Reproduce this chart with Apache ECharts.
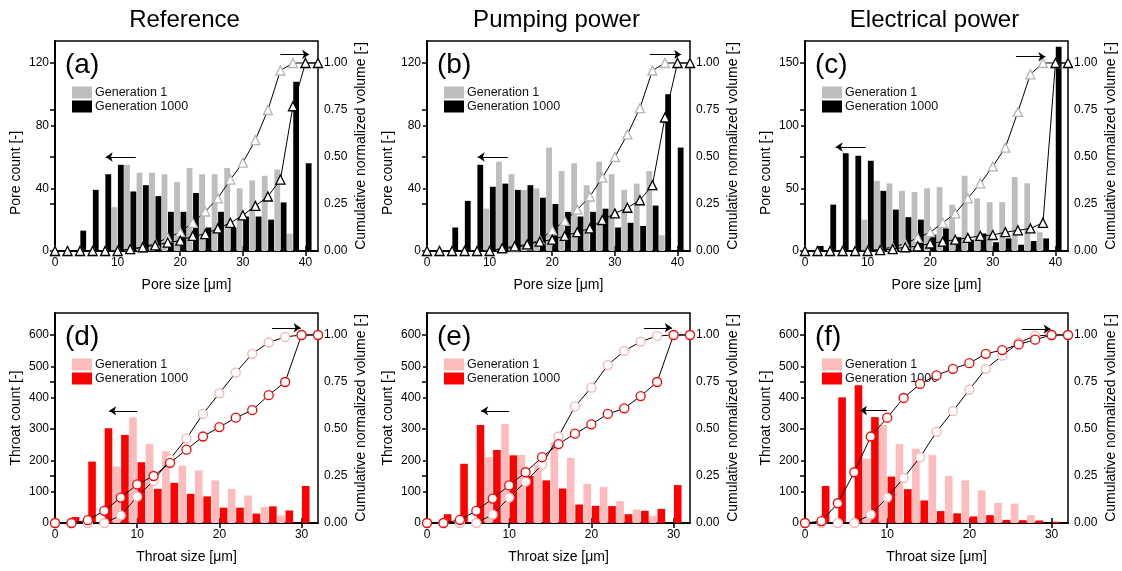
<!DOCTYPE html>
<html><head><meta charset="utf-8">
<script src="https://cdn.jsdelivr.net/npm/echarts@6/dist/echarts.min.js"></script>
<style>html,body{margin:0;padding:0;background:#fff}#c{width:1122px;height:571px}</style>
</head><body><div id="c"></div><script>
// ---------- data ----------
const poreSizes = [0,2,4,6,8,10,12,14,16,18,20,22,24,26,28,30,32,34,36,38,40];
const poreCumSizes = [0,2,4,6,8,10,12,14,16,18,20,22,24,26,28,30,32,34,36,38,40,42];
const throatSizes = [0,2,4,6,8,10,12,14,16,18,20,22,24,26,28,30];
const throatCumSizes = [0,2,4,6,8,10,12,14,16,18,20,22,24,26,28,30,32];

const columnTitles = ['Reference', 'Pumping power', 'Electrical power'];
const panelLabels = ['(a)', '(b)', '(c)', '(d)', '(e)', '(f)'];
const legendNames = ['Generation 1', 'Generation 1000'];

// (a) Reference - pores
const refPoreGen1 = [0,0,0,0,0,28,55,50,50,49,44,53,49,49,53,40,45,48,52,11,0];
const refPoreGen1000 = [0,0,13,39,49,55,38,42,35,25,25,37,15,25,15,22,22,20,31,108,56];
const refPoreCumGen1 = [0,0,0,0,0,0,0.01,0.02,0.04,0.07,0.10,0.15,0.21,0.28,0.38,0.47,0.59,0.75,0.96,1,1,1];
const refPoreCumGen1000 = [0,0,0,0,0,0,0.01,0.02,0.03,0.045,0.055,0.08,0.09,0.12,0.15,0.19,0.24,0.29,0.38,0.77,1,1];
// (b) Pumping power - pores
const pumpPoreGen1 = [0,0,0,0,0,27,57,49,39,40,66,51,56,42,57,49,39,43,51,10,0];
const pumpPoreGen1000 = [0,0,15,32,55,41,43,39,42,34,30,25,22,25,27,15,18,16,29,100,66];
const pumpPoreCumGen1 = [0,0,0,0,0,0,0.01,0.02,0.03,0.06,0.11,0.16,0.22,0.29,0.39,0.50,0.62,0.76,0.96,1,1,1];
const pumpPoreCumGen1000 = [0,0,0,0,0,0,0.015,0.025,0.035,0.05,0.06,0.08,0.10,0.12,0.165,0.20,0.23,0.27,0.35,0.71,1,1];
// (c) Electrical power - pores
const elecPoreGen1 = [0,0,0,0,0,25,56,54,48,47,50,51,37,60,42,39,39,59,54,15,0];
const elecPoreGen1000 = [0,4,37,78,76,72,48,33,27,25,13,18,11,9,14,7,10,5,8,10,163];
const elecPoreCumGen1 = [0,0,0,0,0,0,0.01,0.02,0.04,0.07,0.10,0.15,0.20,0.28,0.36,0.45,0.55,0.74,0.94,1,1,1];
const elecPoreCumGen1000 = [0,0,0,0,0,0,0.005,0.01,0.02,0.025,0.04,0.05,0.06,0.07,0.08,0.085,0.10,0.11,0.12,0.15,1,1];
// (d) Reference - throats
const refThroatGen1 = [0,0,0,0,180,337,252,229,183,168,136,109,88,51,24,0];
const refThroatGen1000 = [0,19,196,302,281,194,109,128,93,85,49,49,30,53,40,118];
const refThroatCumGen1 = [0,0,0,0,0.04,0.14,0.225,0.34,0.45,0.58,0.69,0.80,0.90,0.96,0.99,1,1];
const refThroatCumGen1000 = [0,0,0.015,0.065,0.135,0.205,0.25,0.32,0.39,0.46,0.51,0.56,0.60,0.68,0.75,1,1];
// (e) Pumping power - throats
const pumpThroatGen1 = [0,0,0,0,210,316,217,185,257,208,125,115,70,43,22,0];
const pumpThroatGen1000 = [0,28,189,313,233,216,150,136,110,59,55,54,28,39,45,121];
const pumpThroatCumGen1 = [0,0,0,0,0.045,0.135,0.22,0.31,0.46,0.62,0.72,0.84,0.915,0.965,0.995,1,1];
const pumpThroatCumGen1000 = [0,0,0.017,0.065,0.13,0.20,0.27,0.35,0.42,0.475,0.525,0.58,0.61,0.675,0.75,1,1];
// (f) Electrical power - throats
const elecThroatGen1 = [0,0,0,0,205,313,252,237,217,150,136,104,64,62,25,0];
const elecThroatGen1000 = [0,118,401,440,338,148,108,72,38,31,21,25,10,9,8,4];
const elecThroatCumGen1 = [0,0,0,0,0.045,0.135,0.24,0.35,0.485,0.595,0.71,0.82,0.89,0.96,0.995,1,1];
const elecThroatCumGen1000 = [0,0.01,0.105,0.27,0.46,0.56,0.665,0.74,0.785,0.82,0.85,0.90,0.92,0.95,0.975,1,1];

// tick labels
const poreXTicks = [0,10,20,30,40];
const throatXTicks = [0,10,20,30];
const poreYTicksAB = [0,40,80,120];
const poreYTicksC = [0,50,100,150];
const throatYTicks = [0,100,200,300,400,500,600];
const cumTicks = [0,0.25,0.5,0.75,1.0];

// arrows [x1,y1,x2,y2] in left-axis data units
const arrowsA = [[13.4,60,8.6,60],[36.5,125.5,41.1,125.5]];
const arrowsB = [[13.4,60,8.6,60],[36.1,125.5,41.1,125.5]];
const arrowsC = [[10.2,83,5.4,83],[34.2,155,38.9,155]];
const arrowsD = [[10.5,358,7.1,358],[26.9,623,30.4,623]];
const arrowsE = [[10.5,358,7.1,358],[26.9,623,30.3,623]];
const arrowsF = [[10.5,359,7.2,359],[26.9,619,30.4,619]];

// ---------- layout / style ----------
const FONT = 'Liberation Sans, Arial, sans-serif';
const TOPRATIO = 1.117;
const colLeft = [55, 427, 805];
const rowTop = [41, 313];
const gridW = 263, gridH = 210;

const pore = {sizes: poreSizes, cum: poreCumSizes, xMax: 42, xTicks: poreXTicks, xName: 'Pore size [\u03bcm]', yName: 'Pore count [-]',
  c1: '#bdbdbd', c2: '#000000', m1: '#b5b5b5', m2: '#000000', sym: 'triangle', symSize: 9, barW: 5.8, yNamePad: [0, 54, 0, 0]};
const throat = {sizes: throatSizes, cum: throatCumSizes, xMax: 32, xTicks: throatXTicks, xName: 'Throat size [\u03bcm]', yName: 'Throat count [-]',
  c1: '#fcbcbc', c2: '#ff0000', m1: '#f7b4b4', m2: '#ff0000', sym: 'circle', symSize: 9, barW: 7.6, yNamePad: [0, 0, 0, 0]};

const panels = [
  {kind: pore, col: 0, row: 0, yTicks: poreYTicksAB, g1: refPoreGen1, g2: refPoreGen1000, k1: refPoreCumGen1, k2: refPoreCumGen1000, arrows: arrowsA},
  {kind: pore, col: 1, row: 0, yTicks: poreYTicksAB, g1: pumpPoreGen1, g2: pumpPoreGen1000, k1: pumpPoreCumGen1, k2: pumpPoreCumGen1000, arrows: arrowsB},
  {kind: pore, col: 2, row: 0, yTicks: poreYTicksC, g1: elecPoreGen1, g2: elecPoreGen1000, k1: elecPoreCumGen1, k2: elecPoreCumGen1000, arrows: arrowsC},
  {kind: throat, col: 0, row: 1, yTicks: throatYTicks, g1: refThroatGen1, g2: refThroatGen1000, k1: refThroatCumGen1, k2: refThroatCumGen1000, arrows: arrowsD},
  {kind: throat, col: 1, row: 1, yTicks: throatYTicks, g1: pumpThroatGen1, g2: pumpThroatGen1000, k1: pumpThroatCumGen1, k2: pumpThroatCumGen1000, arrows: arrowsE},
  {kind: throat, col: 2, row: 1, yTicks: throatYTicks, g1: elecThroatGen1, g2: elecThroatGen1000, k1: elecThroatCumGen1, k2: elecThroatCumGen1000, arrows: arrowsF}
];

function onTicks(ticks, fmt) {
  return function (v) {
    for (const t of ticks) if (Math.abs(v - t) < 1e-6) return fmt(v);
    return '';
  };
}

const axisLine = {show: true, lineStyle: {color: '#000', width: 1.5}};
const labelStyle = {color: '#000', fontSize: 12, fontFamily: FONT};

const grid = [], xAxis = [], yAxis = [], series = [], legend = [], title = [];

columnTitles.forEach((t, c) => {
  title.push({text: t, left: colLeft[c] + gridW / 2 - 7, top: 3, textAlign: 'center',
    textStyle: {fontSize: 24, fontWeight: 'normal', color: '#000', fontFamily: FONT}});
});

panels.forEach((p, i) => {
  const K = p.kind;
  const left = colLeft[p.col], top = rowTop[p.row];
  const topTick = p.yTicks[p.yTicks.length - 1];
  const yMax = topTick * TOPRATIO;
  const yInt = p.yTicks[1] - p.yTicks[0];
  grid.push({left: left, top: top, width: gridW, height: gridH, containLabel: false,
    show: true, borderColor: '#000', borderWidth: 1.5, backgroundColor: 'transparent'});
  xAxis[i] = {type: 'value', gridIndex: i, min: 0, max: K.xMax, interval: 10, position: 'bottom',
    name: K.xName, nameLocation: 'middle', nameGap: 27,
    nameTextStyle: {fontSize: 14, color: '#000', fontFamily: FONT},
    axisLine: axisLine, splitLine: {show: false},
    axisTick: {show: true, inside: true, length: 5, customValues: K.xTicks, lineStyle: {color: '#000', width: 1.5}},
    axisLabel: {customValues: K.xTicks, margin: 6, formatter: onTicks(K.xTicks, v => String(v)), ...labelStyle}};
  xAxis[6 + i] = {type: 'value', gridIndex: i, min: 0, max: K.xMax, interval: 10, position: 'top',
    axisLine: axisLine, splitLine: {show: false},
    axisTick: {show: true, inside: true, length: 5, customValues: K.xTicks, lineStyle: {color: '#000', width: 1.5}},
    axisLabel: {show: false}};
  yAxis[i] = {type: 'value', gridIndex: i, min: 0, max: yMax, interval: yInt, position: 'left',
    name: K.yName, nameLocation: 'middle', nameGap: 32, nameRotate: 90,
    nameTextStyle: {fontSize: 14, color: '#000', fontFamily: FONT, padding: K.yNamePad},
    axisLine: axisLine, splitLine: {show: false},
    axisTick: {show: true, inside: false, length: 4, customValues: p.yTicks, lineStyle: {color: '#000', width: 1.5}},
    axisLabel: {customValues: p.yTicks, margin: 6, formatter: onTicks(p.yTicks, v => String(v)), ...labelStyle}};
  yAxis[6 + i] = {type: 'value', gridIndex: i, min: 0, max: TOPRATIO, interval: 0.25, position: 'right',
    name: 'Cumulative normalized volume [-]', nameLocation: 'middle', nameGap: 36, nameRotate: 90,
    nameTextStyle: {fontSize: 14, color: '#000', fontFamily: FONT},
    axisLine: axisLine, splitLine: {show: false},
    axisTick: {show: true, inside: true, length: 5, customValues: cumTicks, lineStyle: {color: '#000', width: 1.5}},
    axisLabel: {customValues: cumTicks, margin: 6, formatter: onTicks(cumTicks, v => v.toFixed(2)), ...labelStyle}};

  const nm1 = legendNames[0], nm2 = legendNames[1];
  series.push({
    type: 'bar', name: nm1, xAxisIndex: i, yAxisIndex: i,
    data: K.sizes.map((s, k) => [s, p.g1[k]]),
    itemStyle: {color: K.c1}, barWidth: K.barW, barGap: '10%', z: 2, animation: false,
    markLine: {silent: true, symbol: ['none', 'arrow'], symbolSize: 7, animation: false,
      lineStyle: {color: '#000', width: 1, type: 'solid'}, label: {show: false},
      data: p.arrows.map(a => [{coord: [a[0], a[1]]}, {coord: [a[2], a[3]]}])}
  });
  series.push({
    type: 'bar', name: nm2, xAxisIndex: i, yAxisIndex: i,
    data: K.sizes.map((s, k) => [s, p.g2[k]]),
    itemStyle: {color: K.c2}, barWidth: K.barW, barGap: '10%', z: 2, animation: false
  });
  series.push({
    type: 'line', name: 'cum1-' + i, xAxisIndex: i, yAxisIndex: 6 + i,
    data: K.cum.map((s, k) => [s, p.k1[k]]),
    symbol: K.sym, symbolSize: K.symSize, showAllSymbol: true,
    lineStyle: {color: '#000', width: 1}, itemStyle: {color: '#fff', borderColor: K.m1, borderWidth: 1.3},
    z: 4, animation: false
  });
  series.push({
    type: 'line', name: 'cum2-' + i, xAxisIndex: i, yAxisIndex: 6 + i,
    data: K.cum.map((s, k) => [s, p.k2[k]]),
    symbol: K.sym, symbolSize: K.symSize, showAllSymbol: true,
    lineStyle: {color: '#000', width: 1}, itemStyle: {color: '#fff', borderColor: K.m2, borderWidth: 1.3},
    z: 5, animation: false
  });

  legend.push({
    left: left + 12, top: top + 40, orient: 'vertical', itemWidth: 20, itemHeight: 12, itemGap: 1,
    selectedMode: false, icon: 'rect',
    textStyle: {fontSize: 12.5, color: '#111', fontFamily: FONT, padding: [0, 0, 0, -2]},
    data: [{name: nm1, itemStyle: {color: K.c1}}, {name: nm2, itemStyle: {color: K.c2}}]
  });

  title.push({text: panelLabels[i], left: left + 5, top: top + 5,
    textStyle: {fontSize: 28, fontWeight: 'normal', color: '#000', fontFamily: FONT}});
});

const chart = echarts.init(document.getElementById('c'), null, {renderer: 'canvas'});
chart.setOption({animation: false, backgroundColor: '#fff', title, grid, xAxis, yAxis, series, legend});
</script></body></html>
